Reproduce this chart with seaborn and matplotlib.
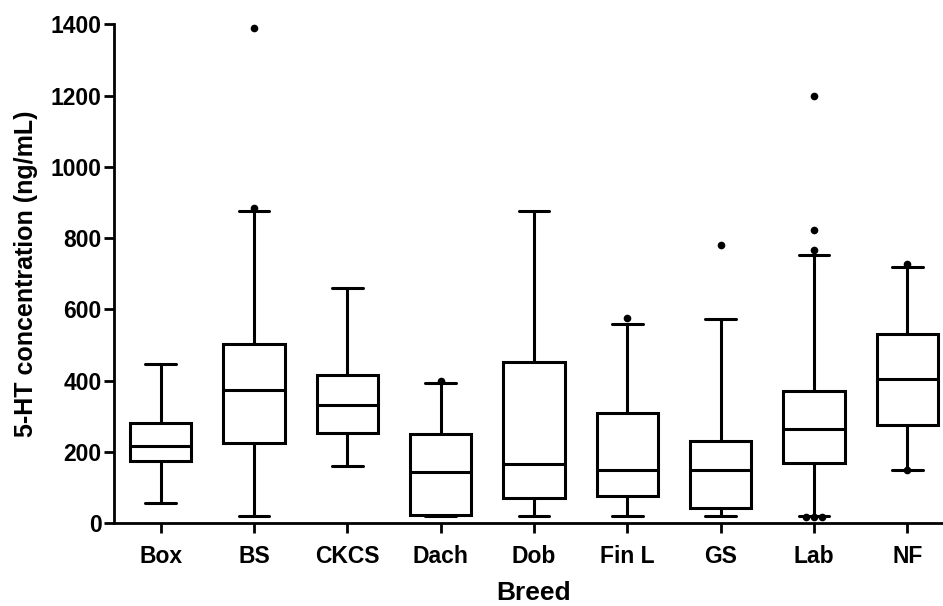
import matplotlib
matplotlib.use("Agg")
import matplotlib.pyplot as plt
import seaborn as sns
import pandas as pd

# nilai (ng/mL)
breeds = ["Box", "BS", "CKCS", "Dach", "Dob", "Fin L", "GS", "Lab", "NF"]
whisker_lo = [56, 20, 161, 20, 20, 20, 20, 20, 150]
q1 = [175, 224, 253, 23, 69, 75, 42, 169, 275]
median = [217, 373, 330, 143, 166, 148, 148, 263, 405]
q3 = [280, 502, 416, 249, 452, 308, 231, 371, 530]
whisker_hi = [446, 875, 661, 392, 877, 559, 573, 752, 718]

outlier_breed = ["BS", "BS", "Dach", "Fin L", "GS", "Lab", "Lab", "Lab", "Lab", "Lab", "Lab", "NF", "NF"]
outlier_val = [1391, 886, 398, 575, 782, 1200, 822, 766, 18, 18, 18, 726, 148]

# data ringkas: 5 titik per ras -> persentil 0/25/50/75/100 pas dengan kotak
rows = []
for i, b in enumerate(breeds):
    for v in (whisker_lo[i], q1[i], median[i], q3[i], whisker_hi[i]):
        rows.append({"Breed": b, "val": v})
df = pd.DataFrame(rows)
df_out = pd.DataFrame({"Breed": outlier_breed, "val": outlier_val})

sns.set_style("ticks")
plt.rcParams["font.family"] = ["Liberation Sans", "DejaVu Sans"]
plt.rcParams["font.weight"] = "bold"
plt.rcParams["axes.labelcolor"] = "black"

fig = plt.figure(figsize=(9.43, 6.06), dpi=100)
ax = fig.add_axes([0.1209, 0.137, 0.8908, 0.8226])

sns.boxplot(data=df, x="Breed", y="val", order=breeds, whis=(0, 100),
            showfliers=False, color="white", linecolor="black",
            linewidth=2.2, width=0.66, ax=ax)
sns.swarmplot(data=df_out, x="Breed", y="val", order=breeds,
              color="black", size=5.5, ax=ax)

ax.set_xlim(-0.5, 8.5)
ax.set_ylim(0, 1400)
ax.set_yticks(range(0, 1401, 200))

sns.despine(ax=ax)
for s in ["left", "bottom"]:
    ax.spines[s].set_linewidth(2)
    ax.spines[s].set_color("black")
ax.tick_params(axis="both", length=7.5, width=2, color="black",
               labelsize=16.5, labelcolor="black")
ax.tick_params(axis="x", pad=8)
ax.tick_params(axis="y", pad=1.5)
for lab in ax.get_xticklabels() + ax.get_yticklabels():
    lab.set_fontweight("bold")

ax.set_xlabel("Breed", fontsize=19, fontweight="bold", color="black", labelpad=10)
ax.set_ylabel("5-HT concentration (ng/mL)", fontsize=18, fontweight="bold",
              color="black", labelpad=9)

plt.savefig("out.png", dpi=100)
plt.close()
